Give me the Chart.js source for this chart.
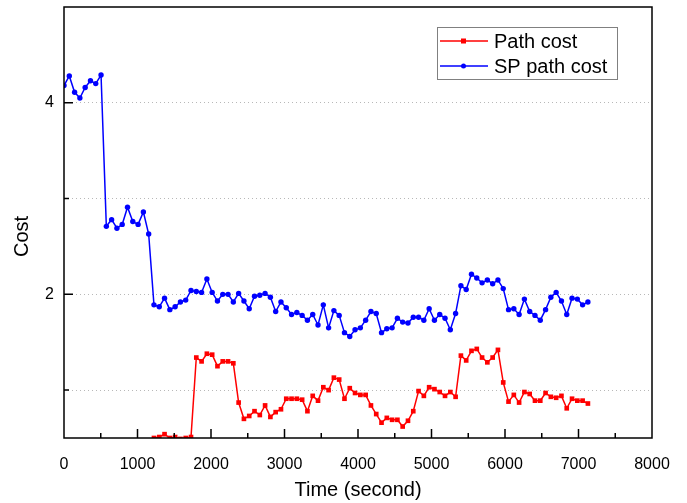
<!DOCTYPE html>
<html>
<head>
<meta charset="utf-8">
<script src="https://cdn.jsdelivr.net/npm/chart.js@4.4.1/dist/chart.umd.min.js"></script>
<style>
  body { margin: 0; background: #fff; }
  #wrap { width: 687px; height: 503px; }
</style>
</head>
<body>
<div id="wrap"><canvas id="cost-chart" width="687" height="503"></canvas></div>
<script>
// sample times (s)
var times = [0,72,144,216,288,360,432,504,576,648,720,792,864,936,1008,1080,1152,1224,1296,1368,
  1440,1512,1584,1656,1728,1800,1872,1944,2016,2088,2160,2232,2304,2376,2448,2520,2592,2664,2736,2808,
  2880,2952,3024,3096,3168,3240,3312,3384,3456,3528,3600,3672,3744,3816,3888,3960,4032,4104,4176,4248,
  4320,4392,4464,4536,4608,4680,4752,4824,4896,4968,5040,5112,5184,5256,5328,5400,5472,5544,5616,5688,
  5760,5832,5904,5976,6048,6120,6192,6264,6336,6408,6480,6552,6624,6696,6768,6840,6912,6984,7056,7128];

var pathCost = [null,null,null,null,null,null,null,null,null,null,
  null,null,null,null,null,null,null,0.50,0.51,0.54,
  0.50,0.51,0.49,0.50,0.51,1.34,1.30,1.38,1.37,1.25,
  1.30,1.30,1.28,0.87,0.70,0.73,0.78,0.74,0.84,0.72,
  0.77,0.80,0.91,0.91,0.91,0.90,0.78,0.94,0.89,1.03,
  1.00,1.13,1.11,0.91,1.02,0.97,0.95,0.95,0.84,0.75,
  0.66,0.71,0.69,0.69,0.62,0.68,0.78,0.99,0.94,1.03,
  1.01,0.98,0.94,0.98,0.93,1.36,1.31,1.41,1.43,1.34,
  1.29,1.34,1.42,1.08,0.88,0.95,0.87,0.98,0.96,0.89,
  0.89,0.97,0.93,0.92,0.94,0.81,0.91,0.89,0.89,0.86];

var spPathCost = [4.18,4.28,4.11,4.05,4.16,4.23,4.20,4.29,2.71,2.78,
  2.69,2.73,2.91,2.76,2.73,2.86,2.63,1.89,1.87,1.96,
  1.84,1.87,1.92,1.94,2.04,2.03,2.02,2.16,2.02,1.93,
  2.00,2.00,1.92,2.01,1.93,1.85,1.98,1.99,2.01,1.97,
  1.82,1.92,1.86,1.79,1.81,1.78,1.73,1.79,1.68,1.89,
  1.65,1.83,1.78,1.60,1.56,1.63,1.65,1.73,1.82,1.80,
  1.60,1.64,1.65,1.75,1.71,1.70,1.76,1.76,1.73,1.85,
  1.73,1.79,1.75,1.63,1.80,2.09,2.05,2.21,2.17,2.12,
  2.15,2.11,2.15,2.06,1.84,1.85,1.79,1.95,1.82,1.78,
  1.73,1.84,1.97,2.02,1.93,1.79,1.96,1.95,1.89,1.92];

var yTicks = [1, 2, 3, 4];
var seriesNames = ["Path cost", "SP path cost"];

function pts(vals) {
  return times.map(function (t, i) { return { x: t, y: vals[i] }; });
}

var FONT = "'Liberation Sans', Arial, sans-serif";

// box frame + inward ticks like the original plot
var frameTicks = {
  id: 'frameTicks',
  afterDatasetsDraw: function (chart) {
    var ctx = chart.ctx, a = chart.chartArea, x = chart.scales.x, y = chart.scales.y;
    ctx.save();
    ctx.strokeStyle = '#000';
    ctx.lineWidth = 1.5;
    ctx.strokeRect(a.left, a.top, a.right - a.left, a.bottom - a.top);
    ctx.beginPath();
    for (var t = 500; t < 8000; t += 500) {
      var px = x.getPixelForValue(t);
      var len = (t % 1000 === 0) ? 9 : 5;
      ctx.moveTo(px, a.bottom);
      ctx.lineTo(px, a.bottom - len);
    }
    for (var v = 1; v <= 4; v++) {
      var py = y.getPixelForValue(v);
      var l2 = (v % 2 === 0) ? 9 : 5;
      ctx.moveTo(a.left, py);
      ctx.lineTo(a.left + l2, py);
    }
    ctx.stroke();
    ctx.restore();
  }
};

// legend box inside the plot
var boxLegend = {
  id: 'boxLegend',
  afterDraw: function (chart) {
    var ctx = chart.ctx;
    ctx.save();
    ctx.strokeStyle = '#808080';
    ctx.lineWidth = 1;
    ctx.strokeRect(437.5, 27.5, 180, 52);
    ctx.font = '20px ' + FONT;
    ctx.textBaseline = 'middle';
    ctx.fillStyle = '#000';
    chart.data.datasets.forEach(function (ds, i) {
      var yy = 41 + i * 25;
      ctx.strokeStyle = ds.borderColor;
      ctx.lineWidth = 1.5;
      ctx.beginPath();
      ctx.moveTo(440, yy);
      ctx.lineTo(488, yy);
      ctx.stroke();
      ctx.fillStyle = ds.borderColor;
      if (ds.pointStyle === 'rect') {
        ctx.fillRect(461, yy - 2.5, 5, 5);
      } else {
        ctx.beginPath();
        ctx.arc(463.5, yy, 2.5, 0, Math.PI * 2);
        ctx.fill();
      }
      ctx.fillStyle = '#000';
      ctx.fillText(ds.label, 494, yy + 1);
    });
    ctx.restore();
  }
};

new Chart(document.getElementById('cost-chart'), {
  type: 'line',
  data: {
    datasets: [{
      label: seriesNames[0],
      data: pts(pathCost),
      borderColor: '#ff0000',
      backgroundColor: '#ff0000',
      borderWidth: 1.5,
      pointStyle: 'rect',
      pointRadius: 3.3,
      pointBorderWidth: 0,
      tension: 0
    }, {
      label: seriesNames[1],
      data: pts(spPathCost),
      borderColor: '#0000ff',
      backgroundColor: '#0000ff',
      borderWidth: 1.5,
      pointStyle: 'circle',
      pointRadius: 2.7,
      pointBorderWidth: 0,
      tension: 0
    }]
  },
  options: {
    responsive: false,
    animation: false,
    layout: { padding: { top: 7, right: 35, left: 0, bottom: 0 } },
    plugins: { legend: { display: false }, tooltip: { enabled: false } },
    scales: {
      x: {
        type: 'linear',
        min: 0,
        max: 8000,
        grid: { display: false },
        border: { display: false },
        ticks: {
          stepSize: 1000, color: '#000', padding: 9, maxRotation: 0, font: { family: FONT, size: 16 },
          callback: function (v) { return String(v); }
        },
        title: { display: true, text: 'Time (second)', color: '#000', padding: { top: 4, bottom: 1 }, font: { family: FONT, size: 20 } },
        afterFit: function (s) { s.height = 65; s.paddingLeft = 0; s.paddingRight = 0; }
      },
      y: {
        type: 'linear',
        min: 0.5,
        max: 5,
        afterBuildTicks: function (s) { s.ticks = yTicks.map(function (v) { return { value: v }; }); },
        grid: { color: '#b8b8b8', lineWidth: 1, drawTicks: false },
        border: { display: false, dash: [1, 3] },
        ticks: {
          color: '#000', padding: 10, font: { family: FONT, size: 16 },
          callback: function (v) { return v % 2 === 0 ? String(v) : ''; }
        },
        title: { display: true, text: 'Cost     ', color: '#000', padding: { top: 10, bottom: 0 }, font: { family: FONT, size: 20 } },
        afterFit: function (s) { s.width = 64; s.paddingTop = 0; s.paddingBottom = 0; }
      }
    }
  },
  plugins: [frameTicks, boxLegend]
});
</script>
</body>
</html>
